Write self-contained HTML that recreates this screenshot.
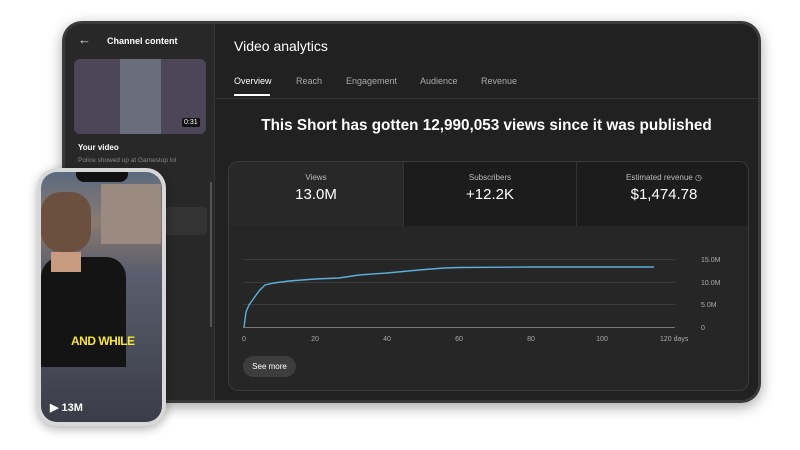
<!DOCTYPE html>
<html><head><meta charset="utf-8"><style>
*{margin:0;padding:0;box-sizing:border-box}
body{width:800px;height:450px;background:#fff;position:relative;overflow:hidden;font-family:"Liberation Sans",sans-serif;color:#fff}
.tab{position:absolute;left:62px;top:21px;width:699px;height:382px;border-radius:20px;background:#3a3a3a;padding:3px;box-shadow:0 4px 14px rgba(0,0,0,.35)}
.scr{position:absolute;left:3px;top:3px;right:3px;bottom:3px;border-radius:17px;background:#212121;overflow:hidden}
.side{position:absolute;left:0;top:0;width:150px;height:100%;background:#282828;border-right:1px solid #333}
.abs{position:absolute}
.card{position:absolute;left:163px;top:137px;width:521px;height:230px;border:1px solid #3a3a3a;border-radius:10px;background:#262626;overflow:hidden}
.t{position:absolute;top:0;height:64px;text-align:center}
.t .l{font-size:8px;color:#bbb;margin-top:11px}
.t .v{font-size:15px;margin-top:4px}
.phone{position:absolute;left:37px;top:168px;width:129px;height:258px;border-radius:20px;background:#d8d8d8;box-shadow:0 3px 10px rgba(0,0,0,.3);padding:3px}
.ps{position:absolute;left:4px;top:4px;right:4px;bottom:4px;border-radius:16px;background:linear-gradient(180deg,#5a6a80 0%,#8a7a70 20%,#5b5e6e 40%,#4a4d5a 70%,#3a3c48 100%);overflow:hidden}
</style></head><body>
<div class="tab"><div class="scr">
 <div class="side">
  <div class="abs" style="left:13px;top:8px;font-size:13px;color:#ddd">&#8592;</div>
  <div class="abs" style="left:42px;top:12px;font-size:9px;font-weight:bold">Channel content</div>
  <div class="abs" style="left:9px;top:35px;width:132px;height:75px;border-radius:6px;background:#4d4658"></div>
  <div class="abs" style="left:55px;top:35px;width:41px;height:75px;background:#6a6e7c"></div>
  <div class="abs" style="left:117px;top:94px;font-size:7px;background:#111;padding:1px 2px;border-radius:2px">0:31</div>
  <div class="abs" style="left:13px;top:119px;font-size:8px;font-weight:bold">Your video</div>
  <div class="abs" style="left:13px;top:133px;font-size:6.5px;color:#888">Police showed up at Gamestop lol</div>
  <div class="abs" style="left:145px;top:158px;width:2px;height:145px;background:#555"></div>
  <div class="abs" style="left:100px;top:183px;width:42px;height:28px;background:#333;border-radius:4px"></div>
 </div>
 <div class="abs" style="left:169px;top:14px;font-size:14px">Video analytics</div>
 <div class="abs" style="left:169px;top:52px;font-size:9px">Overview</div>
 <div class="abs" style="left:169px;top:70px;width:36px;height:2px;background:#fff"></div>
 <div class="abs" style="left:231px;top:52px;font-size:9px;color:#aaa">Reach</div>
 <div class="abs" style="left:281px;top:52px;font-size:9px;color:#aaa">Engagement</div>
 <div class="abs" style="left:355px;top:52px;font-size:9px;color:#aaa">Audience</div>
 <div class="abs" style="left:416px;top:52px;font-size:9px;color:#aaa">Revenue</div>
 <div class="abs" style="left:150px;top:74px;right:0;height:1px;background:#333"></div>
 <div class="abs" style="left:150px;right:0;top:93px;text-align:center;font-size:15.3px;font-weight:bold">This Short has gotten 12,990,053 views since it was published</div>
 <div class="card">
  <div class="t" style="left:0;width:174px;background:#282828"><div class="l">Views</div><div class="v">13.0M</div></div>
  <div class="t" style="left:174px;width:173px;background:#1c1c1c;border-left:1px solid #333"><div class="l">Subscribers</div><div class="v">+12.2K</div></div>
  <div class="t" style="left:347px;width:175px;background:#1c1c1c;border-left:1px solid #333"><div class="l">Estimated revenue &#9719;</div><div class="v">$1,474.78</div></div>
  <svg class="abs" style="left:0;top:0" width="522" height="230">
   <g stroke="#3a3a3a" stroke-width="1"><line x1="14" x2="446" y1="97.5" y2="97.5"/><line x1="14" x2="446" y1="120.5" y2="120.5"/><line x1="14" x2="446" y1="142.5" y2="142.5"/></g>
   <line x1="14" x2="446" y1="165.5" y2="165.5" stroke="#777"/>
   <path d="M15,165 L17,150 L20,143 L25,136 L30,129 L36,123 L45,121 L60,119 L86,117 L110,116 L130,113 L158,111 L190,108 L215,106 L230,105.5 L300,105 L425,105" fill="none" stroke="#5ab0d8" stroke-width="1.4"/>
   <g fill="#aaa" font-size="7" font-family="Liberation Sans"><text x="472" y="100">15.0M</text><text x="472" y="123">10.0M</text><text x="472" y="145">5.0M</text><text x="472" y="168">0</text>
   <g text-anchor="middle"><text x="15" y="179">0</text><text x="86" y="179">20</text><text x="158" y="179">40</text><text x="230" y="179">60</text><text x="302" y="179">80</text><text x="373" y="179">100</text></g><text x="431" y="179">120 days</text></g>
  </svg>
  <div class="abs" style="left:14px;top:194px;width:53px;height:21px;border-radius:11px;background:#3d3d3d;font-size:8px;text-align:center;line-height:21px">See more</div>
 </div>
</div></div>
<div class="phone"><div class="ps">
 <div class="abs" style="left:35px;top:0;width:52px;height:10px;background:#111;border-radius:0 0 8px 8px"></div>
 <div class="abs" style="left:60px;top:12px;width:60px;height:60px;background:#9a8a80"></div>
 <div class="abs" style="left:0;top:20px;width:50px;height:60px;background:#6b5040;border-radius:20px"></div>
 <div class="abs" style="left:0;top:85px;width:85px;height:110px;background:#141414;border-radius:20px 20px 0 0"></div>
 <div class="abs" style="left:10px;top:80px;width:30px;height:20px;background:#c89a80"></div>
 <div class="abs" style="left:30px;top:162px;font-size:12px;font-weight:bold;color:#f5e43a;letter-spacing:-.5px">AND WHILE</div>
 <div class="abs" style="left:9px;top:229px;font-size:11px;font-weight:bold">&#9654; 13M</div>
</div></div>
</body></html>
